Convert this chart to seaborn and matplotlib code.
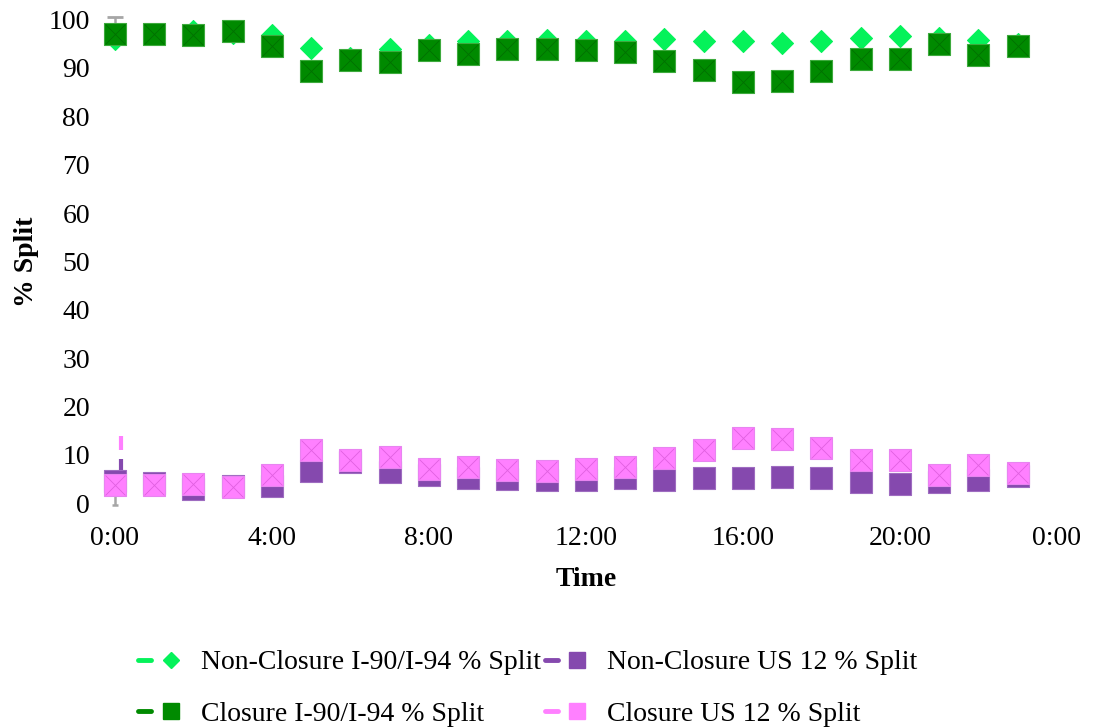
import matplotlib
matplotlib.use("Agg")
import matplotlib.pyplot as plt
from matplotlib.lines import Line2D
from matplotlib.legend_handler import HandlerTuple
import seaborn as sns
import pandas as pd

# Hourly share of traffic on each route (%)
hours = list(range(24))
nonclosure_i90 = [96.0, 96.9, 97.7, 97.3, 96.8, 94.1, 92.1, 93.9, 94.8, 95.5, 95.6, 95.7,
                  95.6, 95.5, 95.9, 95.5, 95.5, 95.1, 95.5, 96.1, 96.5, 96.1, 95.7, 95.0]
closure_i90 = [96.9, 96.9, 96.7, 97.6, 94.5, 89.3, 91.6, 91.2, 93.6, 92.9, 93.9, 94.0,
               93.6, 93.3, 91.4, 89.5, 87.0, 87.3, 89.3, 91.8, 91.8, 94.9, 92.6, 94.5]
nonclosure_us12 = [4.7, 4.1, 3.0, 3.6, 3.6, 6.7, 8.6, 6.5, 5.9, 5.2, 5.1, 4.8,
                   4.9, 5.3, 4.8, 5.2, 5.2, 5.4, 5.2, 4.5, 4.0, 4.4, 4.8, 5.6]
closure_us12 = [3.8, 3.8, 3.9, 3.3, 5.95, 11.1, 8.85, 9.5, 7.0, 7.6, 6.8, 6.6,
                7.0, 7.5, 9.3, 10.95, 13.6, 13.3, 11.4, 8.9, 8.9, 5.8, 8.0, 6.2]

series_names = ["Non-Closure I-90/I-94 % Split", "Closure I-90/I-94 % Split",
                "Non-Closure US 12 % Split", "Closure US 12 % Split"]
x_ticks = [0, 4, 8, 12, 16, 20, 24]
x_tick_labels = ["0:00", "4:00", "8:00", "12:00", "16:00", "20:00", "0:00"]
y_ticks = list(range(0, 101, 10))

df = pd.DataFrame({
    "hour": hours,
    series_names[0]: nonclosure_i90,
    series_names[1]: closure_i90,
    series_names[2]: nonclosure_us12,
    series_names[3]: closure_us12,
})

sns.set_theme(style="white")
plt.rcParams["font.family"] = ["Liberation Serif", "DejaVu Serif"]
plt.rcParams["text.color"] = "black"
plt.rcParams["axes.labelcolor"] = "black"

FS = 20

fig = plt.figure(figsize=(10.93, 7.27), dpi=100)
ax = fig.add_axes([0.1052, 0.3077, 0.8618, 0.6655])

# name: (marker, size, face, edge, pattern colour)
styles = {
    series_names[0]: ("D", 125, "#05F25A", "#05F25A", None),
    series_names[2]: ("s", 240, "#8549AE", "#9E6CC0", None),
    series_names[1]: ("s", 240, "#008A00", "#3DAA3D", "#007000"),
    series_names[3]: ("s", 240, "#FF80FF", "#E884F0", "#E060E0"),
}
draw_order = [series_names[0], series_names[2], series_names[1], series_names[3]]
for name in draw_order:
    mk, s, fc, ec, pat = styles[name]
    sns.scatterplot(data=df, x="hour", y=name, marker=mk, s=s, color=fc,
                    edgecolor=ec, linewidth=0.8, ax=ax, legend=False,
                    clip_on=False, zorder=3)
    if pat is not None:
        sns.scatterplot(data=df, x="hour", y=name, marker="x", s=s * 0.85,
                        color=pat, linewidth=0.6, ax=ax, legend=False,
                        clip_on=False, zorder=3)

# error whiskers on the first hour
ax.errorbar([0], [closure_i90[0]], yerr=[[0], [3.6]], fmt="none",
            ecolor="#A6A6A6", elinewidth=1.8, capsize=5.5, capthick=2, zorder=2,
            clip_on=False)
ax.errorbar([0], [closure_us12[0]], yerr=[[4.1], [0]], fmt="none",
            ecolor="#A6A6A6", elinewidth=1.8, capsize=2.5, capthick=1.8, zorder=1,
            clip_on=False)
ax.errorbar([0.15], [closure_us12[0] + 7.2], yerr=[[0], [3.0]], fmt="none",
            ecolor="#FF80FF", elinewidth=3, zorder=2)
ax.errorbar([0.15], [nonclosure_us12[0] + 2.0], yerr=[[0], [2.5]], fmt="none",
            ecolor="#8549AE", elinewidth=3, zorder=2)

ax.set_xlim(0, 24)
ax.set_ylim(0, 100)
ax.set_xticks(x_ticks)
ax.set_xticklabels(x_tick_labels)
ax.set_yticks(y_ticks)
ax.tick_params(axis="both", labelsize=FS, length=0, colors="black")
ax.tick_params(axis="y", pad=18)
ax.tick_params(axis="x", pad=16)
for sp in ax.spines.values():
    sp.set_visible(False)
ax.grid(False)
ax.set_xlabel("Time", fontsize=FS, fontweight="bold", labelpad=12)
ax.set_ylabel("% Split", fontsize=FS, fontweight="bold", labelpad=7)

# legend: short dash followed by the marker
handles = []
for name in series_names:
    mk, s, fc, ec, pat = styles[name]
    dash = Line2D([0, 1], [0, 0], color=fc, lw=3.5, solid_capstyle="round")
    mark = Line2D([], [], marker=mk, markersize=(s ** 0.5) * 0.72, color=fc,
                  markeredgecolor=fc, linestyle="none")
    handles.append((dash, mark))
fig.legend(handles, series_names, ncol=2, loc="center",
           bbox_to_anchor=(0.483, 0.053), frameon=False, fontsize=FS,
           handler_map={tuple: HandlerTuple(ndivide=2, pad=0.45)},
           handlelength=1.4, handletextpad=0.85, columnspacing=0.15,
           labelspacing=0.95)

fig.savefig("out.png", dpi=100)
